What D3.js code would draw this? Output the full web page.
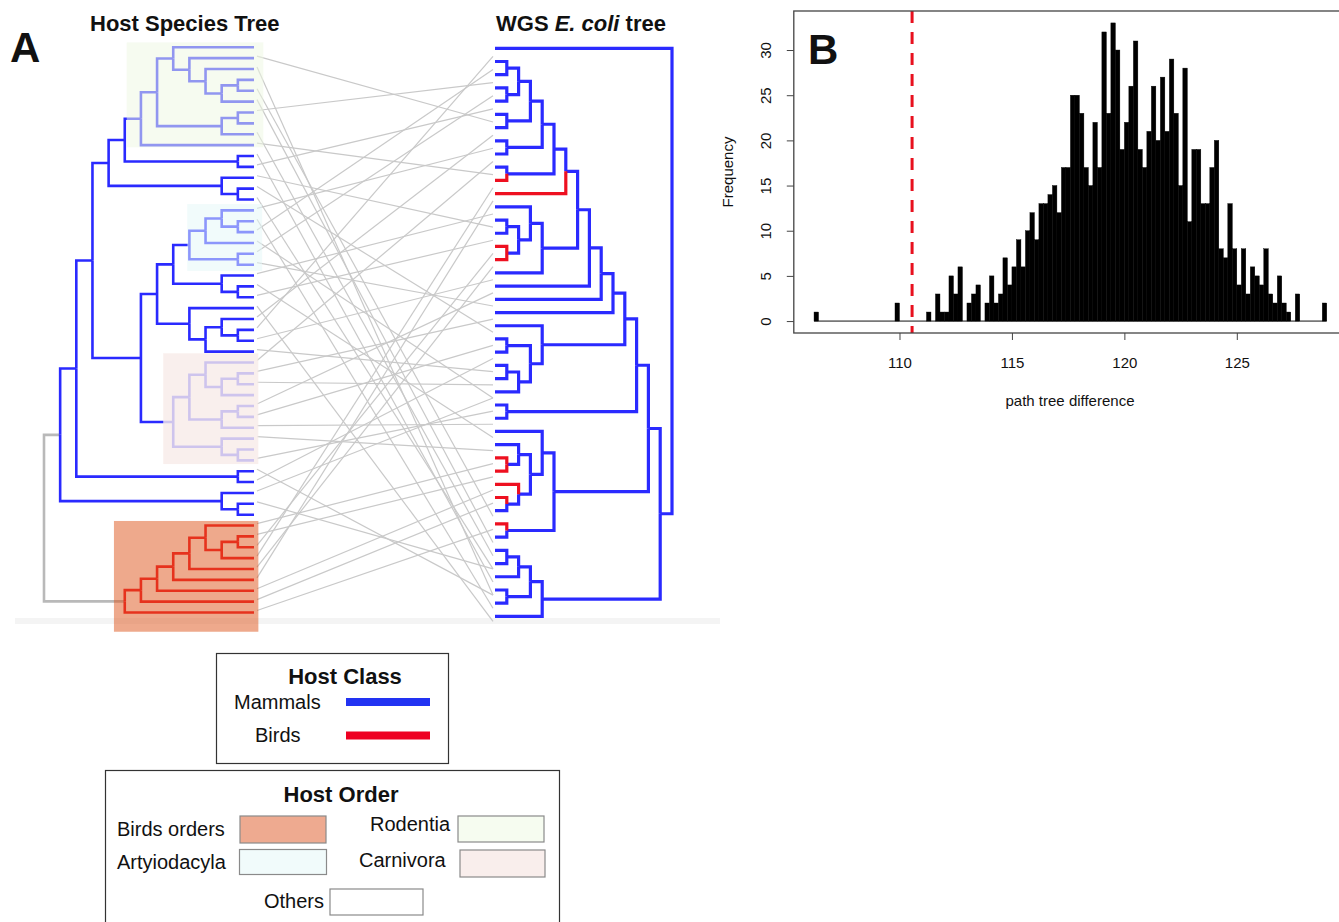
<!DOCTYPE html>
<html><head><meta charset="utf-8">
<script src="https://cdn.jsdelivr.net/npm/d3@7"></script>
<style>
body{margin:0;background:#fff}
svg{display:block}
text{font-family:"Liberation Sans",Arial,Helvetica,sans-serif;fill:#111}
</style>
</head><body>
<svg id="c" width="1339" height="922"></svg>
<script>
// ---------------- DATA ----------------
// Host species tree (tips 0..52, top to bottom)
const rodentia = "(((0,(1,(2,((3,4),5)))),((6,7),8)),9)";
const artiodactyla = "(((15,(16,17)),18),(19,20))";
const carnivora = "(((29,((30,31),32)),((33,34),35)),(36,(37,38)))";
const birdsClade = "((((((44,((45,46),47)),48),49),50),51),52)";
const n372 = "(" + rodentia + ",(10,11))";
const n325 = "(" + n372 + ",(12,(13,14)))";
const n517 = "(" + artiodactyla + ",(21,(22,23)))";
const n565 = "(24,((25,(26,27)),28))";
const n420 = "((" + n517 + "," + n565 + ")," + carnivora + ")";
const n229 = "((" + n325 + "," + n420 + "),(39,40))";
const mammals = "(" + n229 + ",(41,(42,43)))";
const hostNewick = "(" + mammals + "," + birdsClade + ")";
const birdTips = [44,45,46,47,48,49,50,51,52];

// WGS E. coli tree (tips 0..43, top to bottom)
const ecoliNewick = "(0,((((((((((((((1,2),(3,4)),(5,6)),(7,8)),(9,10)),11),((12,((13,14),(15,16))),17)),18),19),20)," +
  "(21,((22,23),((24,25),26)))),(27,28)),((29,((30,(31,32)),(33,(34,35)))),(36,37))),((((38,39),40),(41,42)),43)))";
const ecoliBirdTips = [10,11,15,16,31,32,33,34,36];

// host tip -> E. coli tip associations
const linkHost  = [1,2,4,5,6,8,9,10,11,12,13,14,15,16,17,18,19,20,21,22,23,24,25,26,27,28,29,30,31,33,34,35,36,38,39,40,41,42,44,45,46,47,48,49,50,51,52];
const linkEcoli = [5,41,35,37,2,38,9,40,4,13,21,39,7,42,1,26,3,19,12,29,14,43,6,0,17,24,8,20,25,18,22,28,30,27,41,23,26,39,31,32,15,10,16,11,33,34,36];

// Host order highlight boxes (tip ranges)
const orderNames = ["Rodentia","Artiodactyla","Carnivora","Birds orders"];
const orderFirst = [0,15,29,44];
const orderLast  = [9,20,38,52];

// Histogram of path tree difference (bins of 0.2 starting at 106.2)
const binStart = 106.2, binWidth = 0.2;
const freq = [1,0,0,0,0,0,0,0,0,0,0,0,0,0,0,0,0,0,2,0,0,0,0,0,0,1,0,3,1,1,5,3,6,0,2,3,4,0,2,5,2,3,7,4,6,9,6,10,12,9,13,13,14,15,12,
  17,17,25,25,23,17,15,22,17,32,23,33,30,19,22,26,31,19,17,21,26,20,27,21,29,23,15,28,11,19,19,13,13,17,20,
  8,7,13,8,4,8,3,6,5,4,8,3,2,5,2,1,0,3,0,0,0,0,0,2];
const observed = 110.56;
const xTicks = [110,115,120,125];
const yTicks = [0,5,10,15,20,25,30];

// ---------------- HELPERS ----------------
function parseNewick(s){
  let i=0;
  function node(){
    if(s[i]==='('){
      i++; const children=[];
      while(true){ children.push(node()); if(s[i]===','){i++;continue;} break; }
      i++; return {children};
    }
    let name=''; while(i<s.length && !',();'.includes(s[i])) name+=s[i++];
    return {name};
  }
  return node();
}
function layout(newick, xs, ys){
  const root = d3.hierarchy(parseNewick(newick));
  root.eachAfter(d=>{
    d.px = xs(d.height);
    if(!d.children) d.py = ys(+d.data.name);
    else d.py = (d.children[0].py + d.children[d.children.length-1].py)/2;
  });
  return root;
}
const svg = d3.select("#c");
const BLUE="#2a2aff", RED="#ee1020", GRAY="#b9b9b9";

// ---------------- PANEL A ----------------
const hostX = d3.scaleLinear().domain([0,13]).range([254,44]);
const hostY = d3.scaleLinear().domain([0,52]).range([47.3,612.5]);
const ecoX = d3.scaleLinear().domain([0,15]).range([495,672]);
const ecoY = d3.scaleLinear().domain([0,43]).range([48.3,616.4]);

// faint band
svg.append("rect").attr("x",15).attr("y",618).attr("width",705).attr("height",6).attr("fill","#f4f4f4");

// links
const gL = svg.append("g");
linkHost.forEach((h,i)=>{
  const e = linkEcoli[i];
  gL.append("line").attr("x1",257).attr("y1",hostY(h)-2)
    .attr("x2",493).attr("y2",ecoY(e)+8-3*e/43)
    .attr("stroke","#c9c9c9").attr("stroke-width",1.2);
});

function drawTree(root, colorFn, width){
  const g = svg.append("g").attr("fill","none").attr("stroke-width",width).attr("stroke-linejoin","miter");
  const edges = root.descendants().filter(d=>d.parent);
  edges.sort((a,b)=> (colorFn(a)===RED) - (colorFn(b)===RED));
  edges.forEach(d=>{
    const p=d.parent;
    g.append("path").attr("d",`M${p.px},${p.py}L${p.px},${d.py}L${d.px},${d.py}`).attr("stroke",colorFn(d));
  });
}
const hostRoot = layout(hostNewick, hostX, hostY);
drawTree(hostRoot, d=>{
  if(d.parent===hostRoot) return GRAY;
  if(d.leaves().every(l=>birdTips.includes(+l.data.name))) return RED;
  return BLUE;
}, 2.6);
const ecoRoot = layout(ecoliNewick, ecoX, ecoY);
drawTree(ecoRoot, d=> (!d.children && ecoliBirdTips.includes(+d.data.name)) ? RED : BLUE, 3.2);

// order overlays
const ovDepth = [7.88,4.13,5.62,8.67];
const ovRight = [-0.58,-0.5,-0.27,-0.27];
const ovTop = [0.45,0.58,0.85,0.42], ovBot=[0.2,0.58,0.34,1.77];
const ovFill = ["rgb(238,247,226)","rgb(228,247,247)","rgb(247,235,232)","rgb(221,83,25)"];
const ovOp = [0.53,0.53,0.8,0.5];
orderNames.forEach((n,i)=>{
  const x0=hostX(ovDepth[i]), x1=hostX(ovRight[i]);
  const y0=hostY(orderFirst[i]-ovTop[i]), y1=hostY(orderLast[i]+ovBot[i]);
  svg.append("rect").attr("x",x0).attr("y",y0).attr("width",x1-x0).attr("height",y1-y0)
    .attr("fill",ovFill[i]).attr("fill-opacity",ovOp[i]);
});

// titles
svg.append("text").attr("x",10).attr("y",62).attr("font-size",42).attr("font-weight","bold").text("A");
svg.append("text").attr("x",90).attr("y",31).attr("font-size",22).attr("font-weight","bold").text("Host Species Tree");
const t2 = svg.append("text").attr("x",496).attr("y",31).attr("font-size",22).attr("font-weight","bold");
t2.append("tspan").text("WGS ");
t2.append("tspan").attr("font-style","italic").text("E. coli");
t2.append("tspan").text(" tree");

// legends
const lg = svg.append("g");
lg.append("rect").attr("x",216.5).attr("y",653.5).attr("width",232).attr("height",110).attr("fill","#fff").attr("stroke","#333").attr("stroke-width",1.2);
lg.append("text").attr("x",345).attr("y",684).attr("text-anchor","middle").attr("font-size",22).attr("font-weight","bold").text("Host Class");
lg.append("text").attr("x",234).attr("y",709).attr("font-size",20).text("Mammals");
lg.append("rect").attr("x",346).attr("y",698).attr("width",84).attr("height",8).attr("fill","#2233f2");
lg.append("text").attr("x",255).attr("y",742).attr("font-size",20).text("Birds");
lg.append("rect").attr("x",346).attr("y",731.5).attr("width",84).attr("height",8).attr("fill","#ee0022");

lg.append("rect").attr("x",105.5).attr("y",770.5).attr("width",454).attr("height",170).attr("fill","#fff").attr("stroke","#333").attr("stroke-width",1.2);
lg.append("text").attr("x",341).attr("y",802).attr("text-anchor","middle").attr("font-size",22).attr("font-weight","bold").text("Host Order");
const legItems = [
  {t:"Birds orders", tx:117, ty:836, x:240, y:816, w:86, h:27, f:"#eeaa90"},
  {t:"Artyiodacyla", tx:117, ty:869, x:239.5, y:849.5, w:87, h:25, f:"#f1fbfb"},
  {t:"Rodentia", tx:370, ty:831, x:458, y:816, w:86, h:26, f:"#f6fcf0"},
  {t:"Carnivora", tx:359, ty:867, x:460, y:850, w:85, h:27, f:"#f9eeec"},
  {t:"Others", tx:264, ty:908, x:330, y:889, w:93, h:26, f:"#ffffff"}
];
legItems.forEach(d=>{
  lg.append("text").attr("x",d.tx).attr("y",d.ty).attr("font-size",20).text(d.t);
  lg.append("rect").attr("x",d.x).attr("y",d.y).attr("width",d.w).attr("height",d.h).attr("fill",d.f).attr("stroke","#8a8a8a").attr("stroke-width",1.2);
});

// ---------------- PANEL B ----------------
const hx = d3.scaleLinear().domain([105.3,129.9]).range([793.8,1347]);
const hy = d3.scaleLinear().domain([-1.32,34.32]).range([333,11]);
const gb = svg.append("g");
gb.append("line").attr("x1",hx(binStart)).attr("x2",hx(binStart+freq.length*binWidth)).attr("y1",hy(0)).attr("y2",hy(0)).attr("stroke","#111").attr("stroke-width",1);
freq.forEach((c,i)=>{
  if(!c) return;
  const a = binStart + i*binWidth;
  gb.append("rect").attr("x",hx(a)).attr("width",hx(a+binWidth)-hx(a)).attr("y",hy(c)).attr("height",hy(0)-hy(c))
    .attr("fill","#000").attr("stroke","#000").attr("stroke-width",0.4);
});
gb.append("line").attr("x1",hx(observed)).attr("x2",hx(observed)).attr("y1",hy(34.32)).attr("y2",hy(-1.32))
  .attr("stroke","#e8101e").attr("stroke-width",3).attr("stroke-dasharray","12,9");
gb.append("rect").attr("x",793.8).attr("y",11).attr("width",1347-793.8).attr("height",322).attr("fill","none").attr("stroke","#444").attr("stroke-width",1.3);

const yAx = gb.append("g").attr("transform","translate(793.8,0)").call(d3.axisLeft(hy).tickValues(yTicks).tickSize(7));
yAx.select(".domain").remove();
yAx.selectAll("line").attr("stroke","#444");
yAx.selectAll("text").attr("x",null).attr("dy",null).attr("text-anchor","middle")
  .attr("transform","translate(-23,0) rotate(-90)").attr("font-size",15).attr("fill","#222").attr("font-family","Liberation Sans, Arial, sans-serif");
const xAx = gb.append("g").attr("transform","translate(0,333)").call(d3.axisBottom(hx).tickValues(xTicks).tickSize(7));
xAx.select(".domain").remove();
xAx.selectAll("line").attr("stroke","#444");
xAx.selectAll("text").attr("y",24).attr("font-size",15).attr("fill","#222").attr("font-family","Liberation Sans, Arial, sans-serif");
gb.append("text").attr("x",1070).attr("y",406).attr("text-anchor","middle").attr("font-size",15).text("path tree difference");
gb.append("text").attr("transform","translate(733,172) rotate(-90)").attr("text-anchor","middle").attr("font-size",15).text("Frequency");
gb.append("text").attr("x",808).attr("y",64).attr("font-size",42).attr("font-weight","bold").text("B");
</script>
</body></html>
